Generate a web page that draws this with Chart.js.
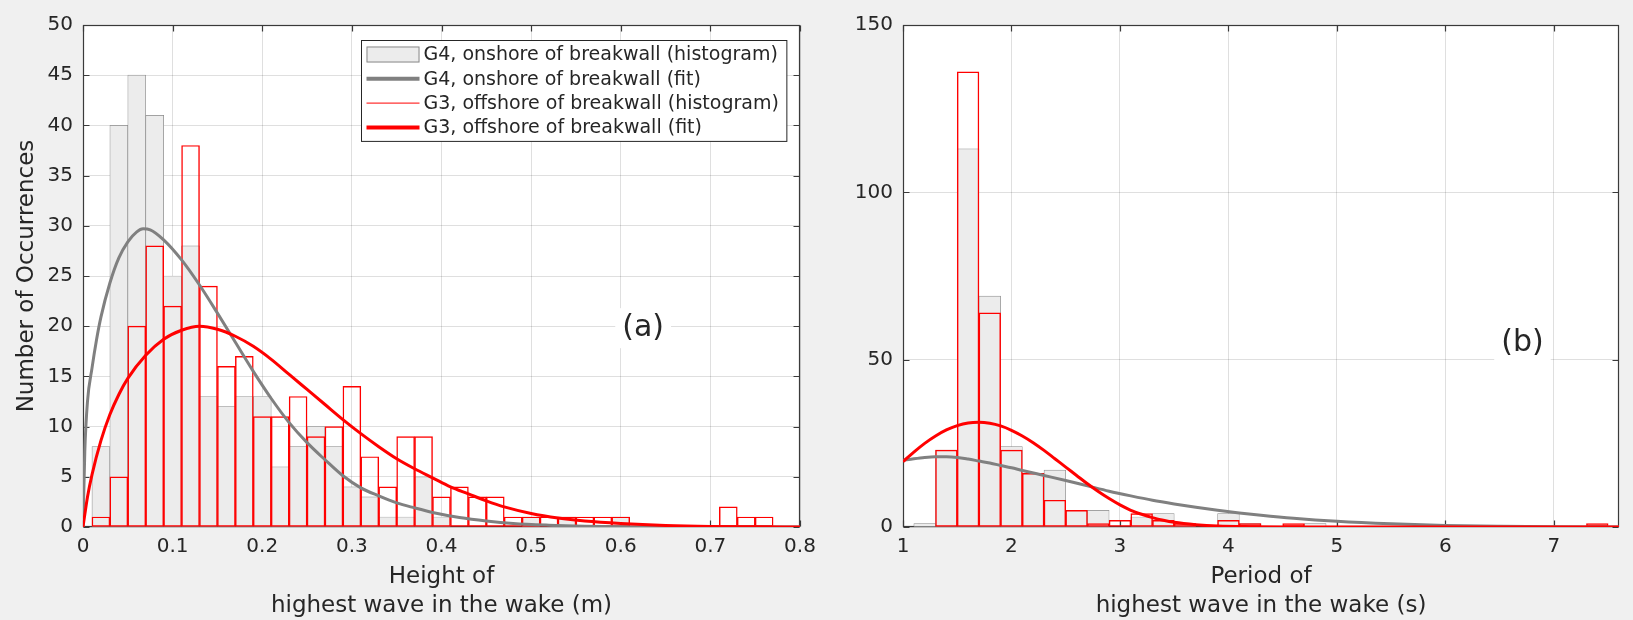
<!DOCTYPE html>
<html>
<head>
<meta charset="utf-8">
<script src="https://cdn.jsdelivr.net/npm/chart.js@4.4.1/dist/chart.umd.min.js"></script>
<style>
  html, body { margin: 0; padding: 0; background: #f0f0f0; }
  #wrap { position: relative; width: 1633px; height: 620px; }
  canvas { position: absolute; top: 0; }
  #height-chart { left: 0; }
  #period-chart { left: 816px; }
</style>
</head>
<body>
<div id="wrap">
  <canvas id="height-chart" width="816" height="620"></canvas>
  <canvas id="period-chart" width="817" height="620"></canvas>
</div>
<script>
"use strict";

// ---- panel (a): wave height ----
const heightBins = [0.02, 0.04, 0.06, 0.08, 0.10, 0.12, 0.14, 0.16, 0.18, 0.20,
  0.22, 0.24, 0.26, 0.28, 0.30, 0.32, 0.34, 0.36, 0.38, 0.40,
  0.42, 0.44, 0.46, 0.48, 0.50, 0.52, 0.54, 0.56, 0.58, 0.60,
  0.62, 0.64, 0.66, 0.68, 0.70, 0.72, 0.74, 0.76];
const heightG4 = [8, 40, 45, 41, 25, 28, 13, 12, 13, 13,
  6, 8, 10, 8, 4, 3, 1, 1, 5, 1,
  0, 0, 0, 0, 1, 0, 1, 0, 0, 1,
  0, 0, 0, 0, 0, 0, 0, 0];
const heightG3 = [1, 5, 20, 28, 22, 38, 24, 16, 17, 11,
  11, 13, 9, 10, 14, 7, 4, 9, 9, 3,
  4, 3, 3, 1, 1, 1, 1, 1, 1, 1,
  0, 0, 0, 0, 0, 2, 1, 1];
const heightFitG4X = [0, 0.002, 0.005, 0.01, 0.015, 0.02, 0.03, 0.04, 0.05, 0.06, 0.067, 0.075,
  0.09, 0.11, 0.13, 0.15, 0.17, 0.19, 0.21, 0.23, 0.25, 0.27, 0.29, 0.31, 0.33, 0.35, 0.37,
  0.39, 0.42, 0.45, 0.48, 0.52, 0.56, 0.6, 0.7, 0.8];
const heightFitG4Y = [0, 7.5, 12.5, 15.8, 18.6, 20.9, 24.3, 26.8, 28.4, 29.4, 29.7, 29.6,
  28.6, 26.6, 24.1, 21.3, 18.4, 15.5, 12.8, 10.4, 8.4, 6.7, 5.1, 3.9, 3.1, 2.4, 1.9,
  1.45, 0.95, 0.6, 0.35, 0.18, 0.08, 0.03, 0, 0];
const heightFitG3X = [0, 0.005, 0.01, 0.02, 0.03, 0.04, 0.05, 0.07, 0.09, 0.11, 0.13, 0.15,
  0.17, 0.19, 0.21, 0.23, 0.25, 0.27, 0.29, 0.31, 0.33, 0.35, 0.37, 0.39, 0.41, 0.43, 0.45,
  0.47, 0.50, 0.53, 0.56, 0.6, 0.65, 0.7, 0.75, 0.8];
const heightFitG3Y = [0, 3.0, 5.2, 8.6, 11.2, 13.2, 14.8, 17.1, 18.7, 19.6, 20.0, 19.7,
  19.0, 18.0, 16.7, 15.2, 13.7, 12.2, 10.7, 9.3, 8.0, 6.8, 5.8, 4.9, 4.0, 3.3, 2.6,
  2.0, 1.35, 0.9, 0.6, 0.35, 0.15, 0.05, 0.02, 0];
const heightTicks = [0, 0.1, 0.2, 0.3, 0.4, 0.5, 0.6, 0.7, 0.8];
const countTicksA = [0, 5, 10, 15, 20, 25, 30, 35, 40, 45, 50];

// ---- panel (b): wave period ----
const periodBins = [1.2, 1.4, 1.6, 1.8, 2.0, 2.2, 2.4, 2.6, 2.8, 3.0,
  3.2, 3.4, 3.6, 3.8, 4.0, 4.2, 4.4, 4.6, 4.8, 5.0,
  5.2, 5.4, 5.6, 5.8, 6.0, 6.2, 6.4, 6.6, 6.8, 7.0, 7.2, 7.4];
const periodG4 = [1, 23, 113, 69, 24, 16, 17, 5, 5, 0,
  3, 4, 1, 0, 4, 1, 0, 0, 1, 0,
  0, 0, 0, 0, 0, 0, 0, 0, 0, 0, 0, 0];
const periodG3 = [0, 23, 136, 64, 23, 16, 8, 5, 1, 2,
  4, 2, 1, 0, 2, 1, 0, 1, 0, 0,
  0, 0, 0, 0, 0, 0, 0, 0, 0, 0, 0, 1];
const periodFitG4X = [1.0, 1.1, 1.2, 1.3, 1.4, 1.5, 1.6, 1.7, 1.8, 1.9, 2.0, 2.1, 2.3, 2.5,
  2.7, 2.9, 3.1, 3.3, 3.5, 3.7, 3.9, 4.1, 4.3, 4.6, 5.0, 5.5, 6.0, 6.5, 7.0, 7.6];
const periodFitG4Y = [19.9, 20.4, 20.8, 21.0, 21.0, 20.8, 20.3, 19.7, 19.1, 18.4, 17.7, 16.9, 15.4, 13.9,
  12.3, 10.7, 9.3, 8.0, 6.9, 5.9, 5.0, 4.2, 3.5, 2.6, 1.7, 0.95, 0.45, 0.2, 0.07, 0];
const periodFitG3X = [1.0, 1.1, 1.2, 1.3, 1.4, 1.5, 1.6, 1.7, 1.8, 1.9, 2.0, 2.1, 2.2, 2.3,
  2.4, 2.5, 2.6, 2.7, 2.8, 2.9, 3.0, 3.1, 3.2, 3.3, 3.4, 3.5, 3.7, 3.9, 4.2, 4.6, 5.0, 7.6];
const periodFitG3Y = [19.5, 22.4, 25.0, 27.2, 29.0, 30.3, 31.1, 31.3, 31.0, 30.2, 28.9, 27.2, 25.2, 22.9,
  20.4, 17.9, 15.4, 12.9, 10.6, 8.5, 6.6, 5.0, 3.8, 2.8, 2.0, 1.4, 0.7, 0.3, 0.1, 0.02, 0, 0];
const periodTicks = [1, 2, 3, 4, 5, 6, 7];
const countTicksB = [0, 50, 100, 150];

const seriesLabels = [
  "G4, onshore of breakwall (histogram)",
  "G4, onshore of breakwall (fit)",
  "G3, offshore of breakwall (histogram)",
  "G3, offshore of breakwall (fit)",
];

const GRAY_FILL = "#ececec";
const GRAY_EDGE = "#8a8a8a";
const GRAY_LINE = "#808080";
const RED = "#ff0000";
const TEXT = "#262626";

Chart.defaults.font.family = "'DejaVu Sans', sans-serif";
Chart.defaults.color = TEXT;

const toPoints = (xs, ys) => xs.map((x, i) => ({ x: x, y: ys[i] }));

// white axes, box, inward ticks and the (a)/(b) tag
const framePlugin = {
  id: "frame",
  beforeDraw(chart) {
    const { ctx, chartArea: a } = chart;
    ctx.save();
    ctx.fillStyle = "#ffffff";
    ctx.fillRect(a.left, a.top, a.right - a.left, a.bottom - a.top);
    ctx.restore();
  },
  beforeDatasetsDraw(chart) {
    const { ctx, chartArea: a, scales } = chart;
    const L = Math.round(a.left) + 0.5, R = Math.round(a.right) - 0.5;
    const T = Math.round(a.top) + 0.5, B = Math.round(a.bottom) - 0.5;
    ctx.save();
    ctx.strokeStyle = "#3a3a3a";
    ctx.lineWidth = 1.2;
    ctx.strokeRect(L, T, R - L, B - T);
    ctx.beginPath();
    scales.x.ticks.forEach((t) => {
      const px = Math.round(scales.x.getPixelForValue(t.value)) + 0.5;
      ctx.moveTo(px, B); ctx.lineTo(px, B - 6);
      ctx.moveTo(px, T); ctx.lineTo(px, T + 6);
    });
    scales.y.ticks.forEach((t) => {
      const py = Math.round(scales.y.getPixelForValue(t.value)) + 0.5;
      ctx.moveTo(L, py); ctx.lineTo(L + 6, py);
      ctx.moveTo(R, py); ctx.lineTo(R - 6, py);
    });
    ctx.stroke();
    ctx.restore();
  },
  afterDraw(chart, args, opts) {
    if (!opts.tag) return;
    const { ctx, scales } = chart;
    const px = scales.x.getPixelForValue(opts.tag.x);
    const py = scales.y.getPixelForValue(opts.tag.y);
    ctx.save();
    ctx.font = "30px 'DejaVu Sans'";
    const w = ctx.measureText(opts.tag.text).width;
    ctx.fillStyle = "#ffffff";
    ctx.fillRect(px - w / 2 - 7, py - 20, w + 14, 40);
    ctx.fillStyle = TEXT;
    ctx.textAlign = "center";
    ctx.textBaseline = "middle";
    ctx.fillText(opts.tag.text, px, py);
    ctx.restore();
  },
};

// legend drawn inside the plot box, like the original figure
const insideLegend = {
  id: "insideLegend",
  afterDraw(chart, args, opts) {
    if (!opts.show) return;
    const { ctx, chartArea: a } = chart;
    const sets = chart.data.datasets.slice().sort((p, q) => p.legendIndex - q.legendIndex);
    ctx.save();
    ctx.font = "19px 'DejaVu Sans'";
    const textW = Math.max(...sets.map((d) => ctx.measureText(d.label).width));
    const rowH = 24.3, symW = 53;
    const boxW = 5 + symW + 4 + textW + 8;
    const boxH = 14 * 2 + rowH * (sets.length - 1);
    const x0 = Math.round(a.right - 14 - boxW) + 0.5;
    const y0 = Math.round(a.top + 15) + 0.5;
    ctx.fillStyle = "#ffffff";
    ctx.fillRect(x0, y0, boxW, boxH);
    ctx.strokeStyle = "#262626";
    ctx.lineWidth = 1;
    ctx.strokeRect(x0, y0, boxW, boxH);
    sets.forEach((d, i) => {
      const cy = y0 + 14 + i * rowH;
      const sx = x0 + 5;
      if (d.type === "bar" && d.backgroundColor !== "transparent") {
        ctx.fillStyle = d.backgroundColor;
        ctx.fillRect(sx, cy - 8, symW, 16);
        ctx.strokeStyle = d.borderColor;
        ctx.lineWidth = 1;
        ctx.strokeRect(sx + 0.5, cy - 7.5, symW - 1, 15);
      } else {
        ctx.strokeStyle = d.borderColor;
        ctx.lineWidth = d.type === "bar" ? 1 : d.borderWidth + 1;
        ctx.beginPath();
        ctx.moveTo(sx, cy);
        ctx.lineTo(sx + symW, cy);
        ctx.stroke();
      }
      ctx.fillStyle = TEXT;
      ctx.textBaseline = "middle";
      ctx.fillText(d.label, sx + symW + 4, cy + 1);
    });
    ctx.restore();
  },
};

function makePanel(canvas, p) {
  return new Chart(canvas, {
    type: "bar",
    data: {
      datasets: [
        {
          type: "line", label: seriesLabels[3], legendIndex: 3, order: 0,
          data: toPoints(p.fitG3X, p.fitG3Y),
          borderColor: RED, borderWidth: 3, pointRadius: 0,
          cubicInterpolationMode: "monotone", fill: false,
        },
        {
          type: "line", label: seriesLabels[1], legendIndex: 1, order: 1,
          data: toPoints(p.fitG4X, p.fitG4Y),
          borderColor: GRAY_LINE, borderWidth: 3, pointRadius: 0,
          cubicInterpolationMode: "monotone", fill: false,
        },
        {
          type: "bar", label: seriesLabels[2], legendIndex: 2, order: 2,
          data: toPoints(p.bins, p.g3),
          backgroundColor: "transparent", borderColor: RED, borderWidth: 0.8,
          borderSkipped: false, grouped: false, barPercentage: 1, categoryPercentage: 1,
        },
        {
          type: "bar", label: seriesLabels[0], legendIndex: 0, order: 3,
          data: toPoints(p.bins, p.g4),
          backgroundColor: GRAY_FILL, borderColor: GRAY_EDGE, borderWidth: 0.7,
          borderSkipped: false, grouped: false, barPercentage: 1, categoryPercentage: 1,
        },
      ],
    },
    options: {
      responsive: false,
      animation: false,
      layout: { padding: { top: 25, right: p.padRight, bottom: 0, left: 0 } },
      plugins: {
        legend: { display: false },
        tooltip: { enabled: false },
        frame: { tag: p.tag },
        insideLegend: { show: p.legend },
      },
      scales: {
        x: {
          type: "linear", min: p.xMin, max: p.xMax, offset: false,
          grid: { color: "rgba(38,38,38,0.15)", drawTicks: false, offset: false },
          border: { display: false },
          ticks: { font: { size: 20 }, padding: 8, maxRotation: 0, color: TEXT },
          afterBuildTicks: (s) => { s.ticks = p.xTicks.map((v) => ({ value: v })); },
          afterFit: (s) => { s.height = 93; s.paddingLeft = 0; s.paddingRight = 0; },
          title: {
            display: true, text: p.xTitle, color: TEXT,
            font: { size: 23, lineHeight: 1.24 }, padding: { top: 0, bottom: 0 },
          },
        },
        y: {
          min: p.yMin, max: p.yMax,
          grid: { color: "rgba(38,38,38,0.15)", drawTicks: false },
          border: { display: false },
          ticks: { font: { size: 20 }, padding: 10, color: TEXT },
          afterBuildTicks: (s) => { s.ticks = p.yTicks.map((v) => ({ value: v })); },
          afterFit: (s) => { s.width = p.yWidth; s.paddingTop = 0; s.paddingBottom = 0; },
          title: {
            display: !!p.yTitle, text: p.yTitle || "", color: TEXT,
            font: { size: 23, lineHeight: 1.2 }, padding: { top: 13, bottom: 0 },
          },
        },
      },
    },
    plugins: [framePlugin, insideLegend],
  });
}

makePanel(document.getElementById("height-chart"), {
  bins: heightBins, g4: heightG4, g3: heightG3,
  fitG4X: heightFitG4X, fitG4Y: heightFitG4Y, fitG3X: heightFitG3X, fitG3Y: heightFitG3Y,
  xMin: 0, xMax: 0.8, xTicks: heightTicks, yMin: 0, yMax: 50, yTicks: countTicksA,
  xTitle: ["Height of", "highest wave in the wake (m)"], yTitle: "Number of Occurrences",
  yWidth: 83, padRight: 16, legend: true, tag: { text: "(a)", x: 0.625, y: 19.8 },
});

makePanel(document.getElementById("period-chart"), {
  bins: periodBins, g4: periodG4, g3: periodG3,
  fitG4X: periodFitG4X, fitG4Y: periodFitG4Y, fitG3X: periodFitG3X, fitG3Y: periodFitG3Y,
  xMin: 1, xMax: 7.6, xTicks: periodTicks, yMin: 0, yMax: 150, yTicks: countTicksB,
  xTitle: ["Period of", "highest wave in the wake (s)"], yTitle: null,
  yWidth: 87, padRight: 14, legend: false, tag: { text: "(b)", x: 6.71, y: 54.8 },
});
</script>
</body>
</html>
